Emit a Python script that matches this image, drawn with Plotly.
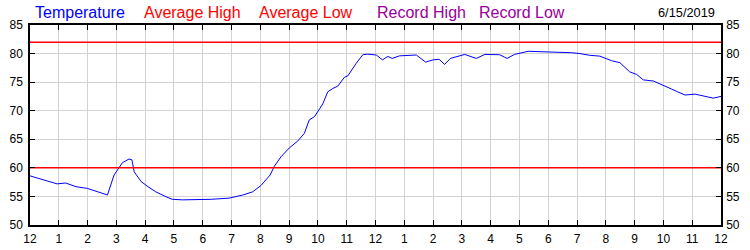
import plotly.graph_objects as go

# Data (hours since midnight, temperature °F)
hours = [0, 0.42, 0.94, 1.24, 1.6, 2.0, 2.4, 2.69, 2.92, 3.21, 3.44, 3.54, 3.62, 3.86,
         4.1, 4.37, 4.72, 4.94, 5.3, 6.11, 6.3, 6.92, 7.39, 7.73, 8.02, 8.34, 8.49, 8.72,
         9.01, 9.3, 9.53, 9.7, 9.88, 10.17, 10.34, 10.52, 10.69, 10.92, 11.04, 11.33,
         11.56, 11.73, 12.03, 12.24, 12.43, 12.58, 12.83, 13.42, 13.74, 14.0, 14.21,
         14.4, 14.6, 15.1, 15.5, 15.8, 16.31, 16.57, 16.83, 17.3, 17.59, 18.17, 18.8,
         19.1, 19.44, 19.79, 20.02, 20.2, 20.49, 20.83, 21.07, 21.3, 21.65, 22.0, 22.28,
         22.5, 22.75, 23.1, 23.38, 23.73, 24.0]
temps = [58.6, 58.0, 57.2, 57.35, 56.7, 56.4, 55.8, 55.25, 58.75, 60.9, 61.55, 61.4, 59.3, 57.6,
         56.7, 55.8, 54.95, 54.5, 54.4, 54.4, 54.5, 54.7, 55.25, 55.8, 56.9, 58.75, 60.3, 61.95,
         63.5, 64.7, 66.05, 68.4, 68.95, 71.2, 73.3, 73.9, 74.3, 75.85, 76.1, 78.3,
         79.8, 79.9, 79.75, 78.9, 79.5, 79.15, 79.6, 79.75, 78.5, 78.9, 79.0,
         78.1, 79.15, 79.85, 79.15, 79.85, 79.8, 79.15, 79.85, 80.4, 80.35, 80.35, 80.15,
         80.0, 79.7, 79.55, 79.15, 78.75, 78.4, 76.8, 76.35, 75.4, 75.2, 74.5, 73.8,
         73.3, 72.75, 72.9, 72.6, 72.2, 72.5]

avg_high = 82
avg_low = 60
tick_hours = list(range(0, 25))
tick_text = ["12"] + [str(i) for i in range(1, 12)] + ["12"] + [str(i) for i in range(1, 12)] + ["12"]
y_ticks = [50, 55, 60, 65, 70, 75, 80, 85]

legend_items = [("Temperature", "#0000FF", 33), ("Average High", "#FF0000", 142),
                ("Average Low", "#FF0000", 257), ("Record High", "#990099", 375),
                ("Record Low", "#990099", 477)]
date_text = "6/15/2019"

FONT = "Liberation Sans, Arial, sans-serif"
L, R, T, B = 30, 29, 25, 25
W, H = 750, 250
pw = W - L - R
ph = H - T - B

fig = go.Figure()
fig.add_trace(go.Scatter(x=hours, y=temps, mode="lines",
                         line=dict(color="#0000FF", width=1), showlegend=False, hoverinfo="skip"))
fig.add_trace(go.Scatter(x=[0, 24], y=[avg_high, avg_high], mode="lines",
                         line=dict(color="#FF0000", width=1.5), showlegend=False, yaxis="y2"))
fig.add_trace(go.Scatter(x=[0, 24], y=[avg_low, avg_low], mode="lines",
                         line=dict(color="#FF0000", width=1.5), showlegend=False, yaxis="y2"))

axis_common = dict(showline=True, linecolor="black", linewidth=1.5, ticks="inside", ticklen=5,
                   tickcolor="black", tickwidth=1, tickfont=dict(family=FONT, size=12, color="black"),
                   zeroline=False, automargin=False)

fig.update_layout(
    width=W, height=H, margin=dict(l=L, r=R, t=T, b=B, pad=0, autoexpand=False),
    paper_bgcolor="white", plot_bgcolor="white", showlegend=False,
    xaxis=dict(range=[0, 24], tickvals=tick_hours, ticktext=tick_text, mirror="ticks",
               showgrid=True, gridcolor="#D3D3D3", gridwidth=1, ticklabelstandoff=2, **axis_common),
    yaxis=dict(range=[50, 85], tickvals=y_ticks, mirror="ticks", showgrid=True,
               gridcolor="#D3D3D3", gridwidth=1, ticklabelstandoff=3, **axis_common),
    yaxis2=dict(range=[50, 85], tickvals=y_ticks, overlaying="y", side="right",
                showgrid=False, ticklabelstandoff=1, **axis_common),
)

for text, color, px in legend_items:
    fig.add_annotation(x=(px - L) / pw, y=(H - B - 13) / ph, xref="paper", yref="paper",
                       xanchor="left", yanchor="middle", text=text, showarrow=False,
                       font=dict(family=FONT, size=16, color=color))
fig.add_annotation(x=(717 - L) / pw, y=(H - B - 12) / ph, xref="paper", yref="paper",
                   xanchor="right", yanchor="middle", text=date_text, showarrow=False,
                   font=dict(family=FONT, size=12.8, color="black"))

fig.write_html("out.html")
